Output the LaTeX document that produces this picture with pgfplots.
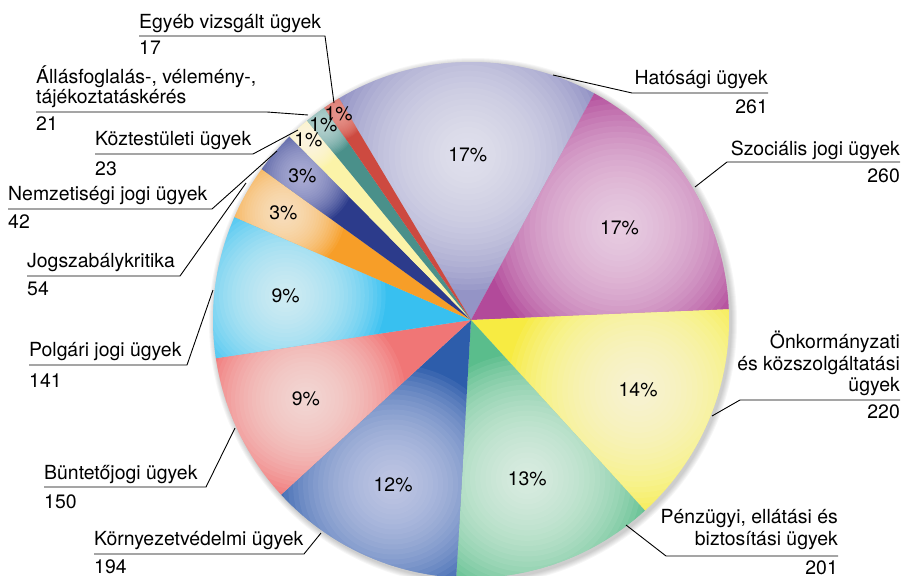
\documentclass[border=0pt]{standalone}
\usepackage{fontspec}
\setmainfont{TeX Gyre Heros}
\usepackage{pgfplots}
\usepackage{pgfplotstable}
\pgfplotsset{compat=1.18}

% slice colours: c = rim colour, in = highlight colour
\definecolor{c0}{HTML}{9494C6}  \definecolor{in0}{HTML}{F4F4FA}
\definecolor{c1}{HTML}{B24A9A}  \definecolor{in1}{HTML}{F8EAF4}
\definecolor{c2}{HTML}{F7EB42}  \definecolor{in2}{HTML}{FFFFF4}
\definecolor{c3}{HTML}{5ABD8C}  \definecolor{in3}{HTML}{F6FBF6}
\definecolor{c4}{HTML}{2D5DAB}  \definecolor{in4}{HTML}{E0E0F4}
\definecolor{c5}{HTML}{F07676}  \definecolor{in5}{HTML}{FFEEEA}
\definecolor{c6}{HTML}{38C0F0}  \definecolor{in6}{HTML}{F0FAFF}
\definecolor{c7}{HTML}{F79E28}  \definecolor{in7}{HTML}{FFF0DE}
\definecolor{c8}{HTML}{2C3B8B}  \definecolor{in8}{HTML}{C8C8E8}
\definecolor{c9}{HTML}{FBF3A8}  \definecolor{in9}{HTML}{FFFEF2}
\definecolor{c10}{HTML}{4A908A} \definecolor{in10}{HTML}{D0E4E2}
\definecolor{c11}{HTML}{CD4A40} \definecolor{in11}{HTML}{F0A8A0}

\newcommand\labfont{\fontsize{19.5}{22}\selectfont}
\newcommand\labl[3]{\node[anchor=base west, inner sep=0pt] at (axis cs:#1,#2) {\labfont #3};}
\newcommand\labr[3]{\node[anchor=base east, inner sep=0pt] at (axis cs:#1,#2) {\labfont #3};}

% value, radius of the % label, radius of the highlight, shown percent
\pgfplotstableread{
v   lr  sr  pct
261 165 135 17
260 175 135 17
220 181 130 14
201 168 125 13
194 182 120 12
150 183 100 9
141 187 100 9
54  216 62  3
42  222 52  3
23  243 32  1
21  245 32  1
17  245 26  1
}\piedata
\pgfplotstablecreatecol[create col/expr accum={\pgfmathaccuma + \thisrow{v}}{0}]{cum}{\piedata}

\begin{document}
\begin{tikzpicture}
\begin{axis}[
  name=ax,
  width=903bp, height=576bp, scale only axis,
  xmin=0, xmax=903, ymin=0, ymax=576, y dir=reverse,
  hide axis,
]
\pgfplotstablegetelem{11}{cum}\of\piedata \let\tot\pgfplotsretval
\pgfmathsetmacro\deg{360/\tot}

% soft shadow
\pgfplotsinvokeforeach{1,...,6}{
  \fill[black, opacity=0.035] (axis cs:473,322) circle[radius={258bp+#1bp}];
}

% slices, each with a soft highlight built from stacked translucent discs
\pgfplotsinvokeforeach{0,...,11}{
  \pgfplotstablegetelem{#1}{v}\of\piedata \let\sv\pgfplotsretval
  \pgfplotstablegetelem{#1}{cum}\of\piedata \let\scum\pgfplotsretval
  \pgfplotstablegetelem{#1}{lr}\of\piedata \let\slr\pgfplotsretval
  \pgfplotstablegetelem{#1}{sr}\of\piedata \let\ssr\pgfplotsretval
  \pgfmathsetmacro\sa{120.8-\deg*(\scum-\sv)}
  \pgfmathsetmacro\ea{120.8-\deg*\scum}
  \pgfmathsetmacro\ma{(\sa+\ea)/2}
  \pgfmathsetmacro\lx{471+\slr*cos(\ma)}
  \pgfmathsetmacro\ly{320-\slr*sin(\ma)}
  \edef\tmp{%
    \noexpand\fill[c#1, path picture={\noexpand\foreach \noexpand\k in {1,...,24}{%
        \noexpand\fill[in#1, opacity=0.075] (axis cs:\lx,\ly) circle[radius={\ssr bp*(25-\noexpand\k)/24}];}}]
      (axis cs:471,320) -- ++(\sa:258bp) arc[start angle=\sa, end angle=\ea, radius=258bp] -- cycle;
  }\tmp
}
\pgfplotsinvokeforeach{0,...,11}{
  \pgfplotstablegetelem{#1}{v}\of\piedata \let\sv\pgfplotsretval
  \pgfplotstablegetelem{#1}{cum}\of\piedata \let\scum\pgfplotsretval
  \pgfplotstablegetelem{#1}{lr}\of\piedata \let\slr\pgfplotsretval
  \pgfplotstablegetelem{#1}{pct}\of\piedata \let\spct\pgfplotsretval
  \pgfmathsetmacro\ma{120.8-\deg*(\scum-\sv/2)}
  \pgfmathsetmacro\lx{471+\slr*cos(\ma)}
  \pgfmathsetmacro\ly{320-\slr*sin(\ma)}
  \edef\tmp{\noexpand\node[inner sep=0pt] at (axis cs:\lx,\ly) {\noexpand\labfont\spct\noexpand\%};}\tmp
}

% leader lines
\draw[line width=0.9bp] (axis cs:139,36) -- (axis cs:325,36) -- (axis cs:334,103);
\draw[line width=0.9bp] (axis cs:36,112) -- (axis cs:267,112) -- (axis cs:308,115);
\draw[line width=0.9bp] (axis cs:95,154) -- (axis cs:253,154) -- (axis cs:298,130);
\draw[line width=0.9bp] (axis cs:8,209) -- (axis cs:212,209) -- (axis cs:277,151);
\draw[line width=0.9bp] (axis cs:27,276) -- (axis cs:180,276) -- (axis cs:246,183);
\draw[line width=0.9bp] (axis cs:29,365) -- (axis cs:187,365) -- (axis cs:213,290);
\draw[line width=0.9bp] (axis cs:44,487) -- (axis cs:206,487) -- (axis cs:235,428);
\draw[line width=0.9bp] (axis cs:94,554) -- (axis cs:304,554) -- (axis cs:321,533);
\draw[line width=0.9bp] (axis cs:838,556) -- (axis cs:666,556) -- (axis cs:626,525);
\draw[line width=0.9bp] (axis cs:900,400) -- (axis cs:740,400) -- (axis cs:712,416);
\draw[line width=0.9bp] (axis cs:900,162) -- (axis cs:727,162) -- (axis cs:695,187);
\draw[line width=0.9bp] (axis cs:768,93) -- (axis cs:632,93) -- (axis cs:553,75);

% category labels
\labl{139}{29}{Egyéb vizsgált ügyek}
\labl{139}{55}{17}
\labl{36}{84}{Állásfoglalás-, vélemény-,}
\labl{36}{103}{tájékoztatáskérés}
\labl{36}{130}{21}
\labl{95}{145}{Köztestületi ügyek}
\labl{95}{175}{23}
\labl{8}{200}{Nemzetiségi jogi ügyek}
\labl{8}{228}{42}
\labl{27}{267}{Jogszabálykritika}
\labl{27}{295}{54}
\labl{29}{356}{Polgári jogi ügyek}
\labl{29}{387}{141}
\labl{44}{479}{Büntetőjogi ügyek}
\labl{44}{508}{150}
\labl{94}{545}{Környezetvédelmi ügyek}
\labl{94}{573}{194}
\labr{768}{85}{Hatósági ügyek}
\labr{768}{113}{261}
\labr{900}{155}{Szociális jogi ügyek}
\labr{900}{182}{260}
\labr{900}{348}{Önkormányzati}
\labr{900}{370}{és közszolgáltatási}
\labr{900}{391}{ügyek}
\labr{900}{418}{220}
\labr{838}{523}{Pénzügyi, ellátási és}
\labr{838}{545}{biztosítási ügyek}
\labr{838}{574}{201}
\end{axis}
\pgfresetboundingbox
\path[use as bounding box] (ax.south west) rectangle (ax.north east);
\end{tikzpicture}
\end{document}
